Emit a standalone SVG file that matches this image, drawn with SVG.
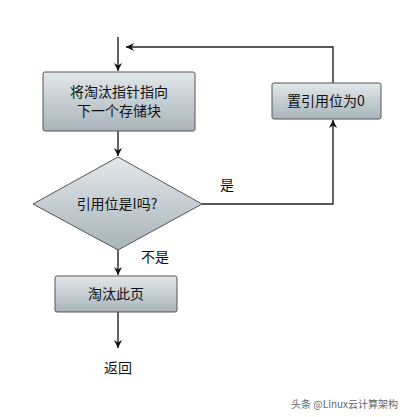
<svg xmlns="http://www.w3.org/2000/svg" width="417" height="417" viewBox="0 0 417 417">
<defs>
<linearGradient id="g" x1="0" y1="0" x2="0" y2="1">
<stop offset="0" stop-color="#e2e8eb"/>
<stop offset="1" stop-color="#a8b4ba"/>
</linearGradient>
<marker id="ah" viewBox="0 0 10 10" refX="10" refY="5" markerWidth="8" markerHeight="8" markerUnits="userSpaceOnUse" orient="auto">
<path d="M0,0 L10,5 L0,10 L3,5 z" fill="#111"/>
</marker>
</defs>
<style>
.box{fill:url(#g);stroke:#555;stroke-width:1}
.ln{fill:none;stroke:#222;stroke-width:1.4}
text{font-family:"Noto Sans CJK SC","Noto Sans",sans-serif;fill:#111;font-size:14px;text-anchor:middle}
.wm{font-size:10px;fill:#666;text-anchor:start}
</style>
<rect width="417" height="417" fill="#fff"/>
<g id="connectors">
<path class="ln" d="M118,37 V71" marker-end="url(#ah)"/>
<path class="ln" d="M118,131 V156" marker-end="url(#ah)"/>
<path class="ln" d="M202,204 H333 V120" marker-end="url(#ah)"/>
<path class="ln" d="M333,83 V47 H126" marker-end="url(#ah)"/>
<path class="ln" d="M118,250 V275" marker-end="url(#ah)"/>
<path class="ln" d="M118,312 V348" marker-end="url(#ah)"/>
</g>
<g id="n1">
<rect class="box" x="43" y="72" width="152" height="59" rx="2"/>
<text x="119" y="97">将淘汰指针指向</text>
<text x="119" y="116">下一个存储块</text>
</g>
<g id="n2">
<rect class="box" x="272" y="83" width="109" height="36" rx="2"/>
<text x="326" y="106">置引用位为0</text>
</g>
<g id="n3">
<polygon class="box" points="118,157 202,204 118,250 33,204"/>
<text x="117" y="209">引用位是I吗?</text>
</g>
<g id="n4">
<rect class="box" x="55" y="276" width="122" height="36" rx="2"/>
<text x="116" y="299">淘汰此页</text>
</g>
<g id="n5">
<text x="118" y="373">返回</text>
</g>
<text x="227" y="190">是</text>
<text x="155" y="262">不是</text>
<text class="wm" x="291" y="408">头条 @Linux云计算架构</text>
</svg>
